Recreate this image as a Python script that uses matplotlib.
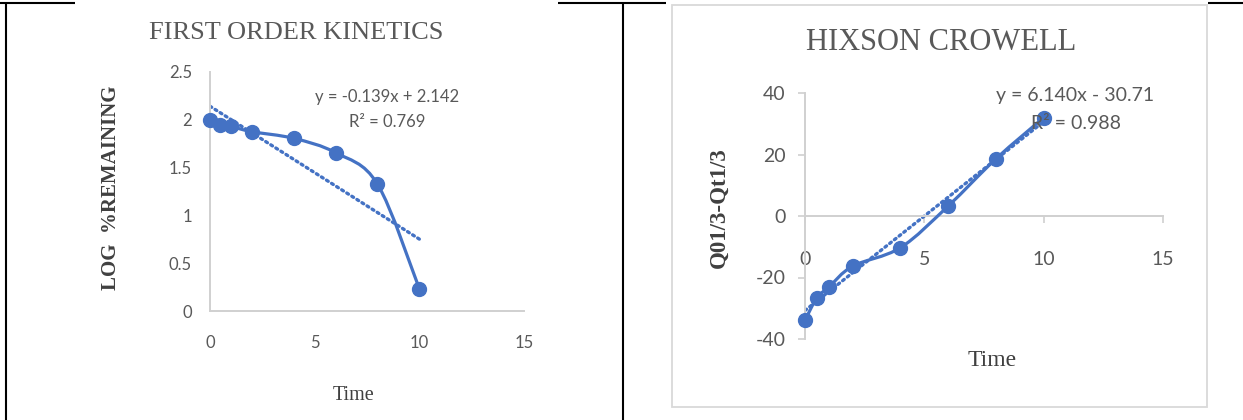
import matplotlib
matplotlib.use("Agg")
import matplotlib.pyplot as plt
import numpy as np
from matplotlib.path import Path
from matplotlib.patches import PathPatch, Rectangle
from matplotlib.lines import Line2D

plt.rcParams["axes.unicode_minus"] = False

# ---------------- data ----------------
time_vals = [0, 0.5, 1, 2, 4, 6, 8, 10]
log_remaining = [2.00, 1.95, 1.93, 1.876, 1.806, 1.656, 1.328, 0.233]
hixson_vals = [-33.9, -26.6, -23.1, -16.3, -10.3, 3.25, 18.6, 32.0]

first_slope, first_intercept = -0.139, 2.142
hix_slope, hix_intercept = 6.140, -30.71

first_eq = "y = -0.139x + 2.142"
first_r2 = "R² = 0.769"
hix_eq = "y = 6.140x - 30.71"
hix_r2 = "R² = 0.988"

first_title = "FIRST ORDER KINETICS"
hix_title = "HIXSON CROWELL"
first_ylabel = "LOG  %REMAINING"
hix_ylabel = "Q01/3-Qt1/3"
xlabel_text = "Time"

first_yticks = [0, 0.5, 1, 1.5, 2, 2.5]
first_yticklabels = ["0", "0.5", "1", "1.5", "2", "2.5"]
hix_yticks = [-40, -20, 0, 20, 40]
xticks = [0, 5, 10, 15]

BLUE = "#4472C4"
GRAY_TXT = "#595959"
AXIS_GRAY = "#D0D0D0"
SERIF = ["Liberation Serif", "DejaVu Serif"]
SANS = ["Lato", "DejaVu Sans"]

W, H = 1243, 420
fig = plt.figure(figsize=(W / 100, H / 100), dpi=100)


def fx(px):
    return px / W


def fy(py):
    return 1 - py / H


def smooth_path(xs, ys):
    pts = np.column_stack([xs, ys]).astype(float)
    n = len(pts)
    verts = [pts[0]]
    codes = [Path.MOVETO]
    for i in range(n - 1):
        p0 = pts[i - 1] if i > 0 else pts[i]
        p1 = pts[i]
        p2 = pts[i + 1]
        p3 = pts[i + 2] if i + 2 < n else pts[i + 1]
        c1 = p1 + (p2 - p0) / 6.0
        c2 = p2 - (p3 - p1) / 6.0
        verts += [c1, c2, p2]
        codes += [Path.CURVE4] * 3
    return Path(verts, codes)


def draw_series(ax, xs, ys):
    patch = PathPatch(smooth_path(xs, ys), facecolor="none", edgecolor=BLUE,
                      lw=2.3, transform=ax.transData, zorder=3,
                      capstyle="round", joinstyle="round")
    ax.add_patch(patch)
    ax.plot(xs, ys, linestyle="none", marker="o", markersize=10,
            color=BLUE, zorder=4, clip_on=False)


def draw_trend(ax, slope, intercept, x0, x1):
    xx = np.array([x0, x1])
    ax.plot(xx, slope * xx + intercept, color=BLUE, lw=2.4,
            linestyle=(0, (0.6, 1.2)), dash_capstyle="round", zorder=2)


# ---------------- left chart ----------------
axL = fig.add_axes([fx(210), fy(311), fx(524) - fx(210), fy(72) - fy(311)])
axL.set_xlim(0, 15)
axL.set_ylim(0, 2.5)
for s in ["top", "right"]:
    axL.spines[s].set_visible(False)
for s in ["left", "bottom"]:
    axL.spines[s].set_color(AXIS_GRAY)
    axL.spines[s].set_linewidth(1.4)
axL.set_xticks(xticks)
axL.set_yticks(first_yticks)
axL.set_yticklabels(first_yticklabels)
axL.tick_params(axis="both", length=0, labelcolor=GRAY_TXT, labelsize=12)
axL.tick_params(axis="x", pad=17)
axL.tick_params(axis="y", pad=13)
for lab in axL.get_xticklabels() + axL.get_yticklabels():
    lab.set_family(SANS)
draw_trend(axL, first_slope, first_intercept, 0, 10)
draw_series(axL, time_vals, log_remaining)

fig.text(fx(296), fy(33), first_title, ha="center", va="center",
         family=SERIF, fontsize=19, color=GRAY_TXT)
fig.text(fx(111), fy(188), first_ylabel, ha="center", va="center",
         rotation=90, family=SERIF, fontsize=15, fontweight="bold", color="#404040")
fig.text(fx(354), fy(396), xlabel_text, ha="center", va="center",
         family=SERIF, fontsize=14.5, color="#404040")
fig.text(fx(387), fy(97), first_eq, ha="center", va="center",
         family=SANS, fontsize=12, color=GRAY_TXT)
fig.text(fx(387), fy(122), first_r2, ha="center", va="center",
         family=SANS, fontsize=12, color=GRAY_TXT)

# ---------------- right chart ----------------
fig.add_artist(Rectangle((fx(672), fy(407)), fx(1207) - fx(672), fy(5) - fy(407),
                         transform=fig.transFigure, facecolor="white",
                         edgecolor="#D9D9D9", lw=1.3, zorder=0))

axR = fig.add_axes([fx(805), fy(339), fx(1163) - fx(805), fy(93) - fy(339)])
axR.patch.set_alpha(0)
axR.set_xlim(0, 15)
axR.set_ylim(-40, 40)
for s in ["top", "right"]:
    axR.spines[s].set_visible(False)
axR.spines["bottom"].set_position(("data", 0))
for s in ["left", "bottom"]:
    axR.spines[s].set_color(AXIS_GRAY)
    axR.spines[s].set_linewidth(1.4)
axR.set_xticks(xticks)
axR.set_yticks(hix_yticks)
axR.tick_params(axis="both", length=5, width=1.2, color=AXIS_GRAY,
                labelcolor=GRAY_TXT, labelsize=14, direction="out")
axR.tick_params(axis="x", pad=20)
axR.tick_params(axis="y", pad=9)
for lab in axR.get_xticklabels() + axR.get_yticklabels():
    lab.set_family(SANS)
draw_trend(axR, hix_slope, hix_intercept, 0, 10)
draw_series(axR, time_vals, hixson_vals)

fig.text(fx(941), fy(42), hix_title, ha="center", va="center",
         family=SERIF, fontsize=22, color=GRAY_TXT)
fig.text(fx(719), fy(208), hix_ylabel, ha="center", va="center",
         rotation=90, family=SERIF, fontsize=16.5, fontweight="bold", color="#404040")
fig.text(fx(992), fy(360), xlabel_text, ha="center", va="center",
         family=SERIF, fontsize=17, color="#404040")
fig.text(fx(1075), fy(95), hix_eq, ha="center", va="center",
         family=SANS, fontsize=14, color=GRAY_TXT, zorder=5)
fig.text(fx(1076), fy(123), hix_r2, ha="center", va="center",
         family=SANS, fontsize=14, color=GRAY_TXT, zorder=1)

# ---------------- table borders ----------------
def border(x0, y0, x1, y1):
    fig.add_artist(Line2D([fx(x0), fx(x1)], [fy(y0), fy(y1)],
                          transform=fig.transFigure, color="black", lw=1.5,
                          solid_capstyle="butt"))

border(0, 3, 75, 3)
border(558, 3, 666, 3)
border(1208, 3, 1243, 3)
border(6, 3, 6, 420)
border(623, 3, 623, 420)

fig.savefig("out.png", dpi=100)
